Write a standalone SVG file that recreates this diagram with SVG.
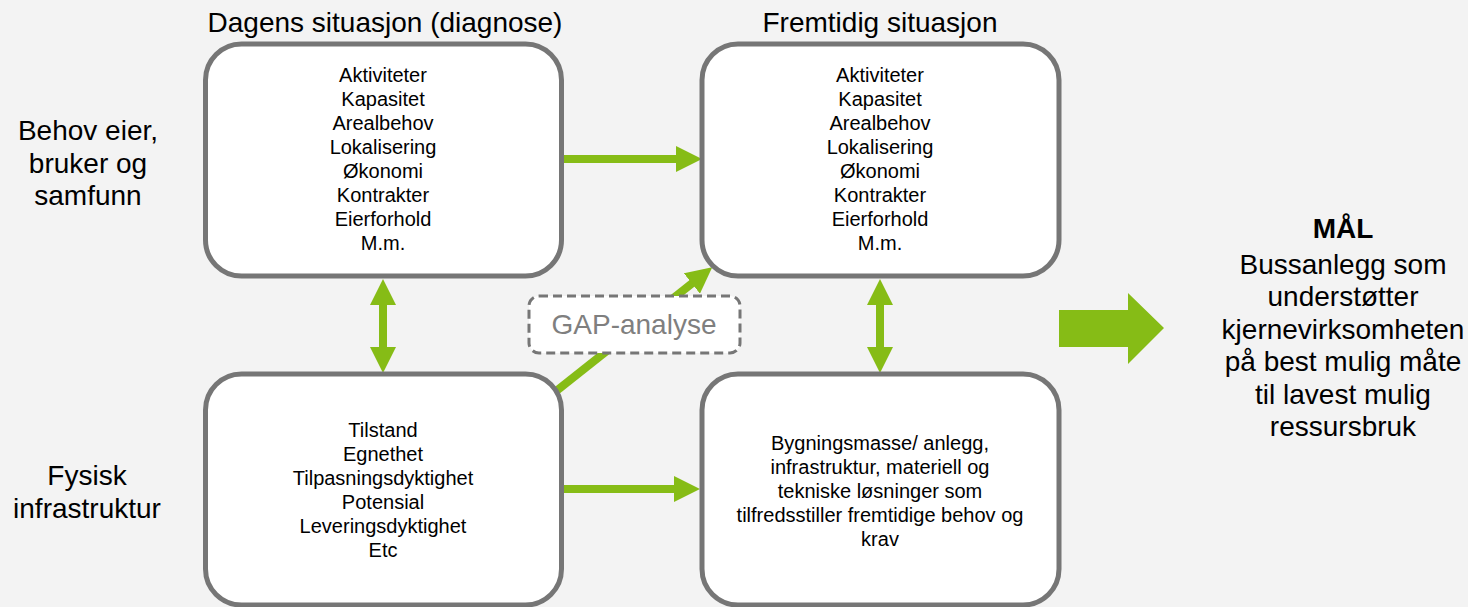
<svg xmlns="http://www.w3.org/2000/svg" width="1468" height="607" viewBox="0 0 1468 607">
<style>
text{font-family:"Liberation Sans",Arial,sans-serif;fill:#000;text-anchor:middle}
.box{fill:#fff;stroke:#767676;stroke-width:5}
.t{font-size:20px}
.h{font-size:28px}
.con{stroke:#86bc16;stroke-width:8;fill:none}
.gap{fill:#fff;stroke:#767676;stroke-width:3;stroke-dasharray:9 5}
</style>
<defs>
<marker id="ah" viewBox="0 0 26 26" markerWidth="26" markerHeight="26" markerUnits="userSpaceOnUse" refX="4" refY="13" orient="auto-start-reverse">
<path d="M0,0 L26,13 L0,26 z" fill="#86bc16"/>
</marker>
</defs>
<rect width="1468" height="607" fill="#f3f3f3"/>
<text class="h" x="385" y="32">Dagens situasjon (diagnose)</text>
<text class="h" x="880" y="32">Fremtidig situasjon</text>
<g id="label-behov"><text class="h" x="88" y="140">Behov eier,</text><text class="h" x="88" y="173">bruker og</text><text class="h" x="88" y="205">samfunn</text></g>
<g id="label-fysisk"><text class="h" x="87" y="485">Fysisk</text><text class="h" x="87" y="518">infrastruktur</text></g>
<g id="connectors">
<line class="con" x1="564" y1="159" x2="680" y2="159" marker-end="url(#ah)"/>
<line class="con" x1="564" y1="489" x2="678" y2="489" marker-end="url(#ah)"/>
<line class="con" x1="383" y1="301" x2="383" y2="351" marker-start="url(#ah)" marker-end="url(#ah)"/>
<line class="con" x1="880" y1="301" x2="880" y2="351" marker-start="url(#ah)" marker-end="url(#ah)"/>
<line class="con" x1="555" y1="392" x2="695" y2="281" marker-end="url(#ah)"/>
</g>
<g id="box-dagens-behov">
<rect class="box" x="205.5" y="44" width="356" height="232" rx="36"/>
<text class="t" x="383" y="82">Aktiviteter</text><text class="t" x="383" y="106">Kapasitet</text><text class="t" x="383" y="130">Arealbehov</text><text class="t" x="383" y="154">Lokalisering</text><text class="t" x="383" y="178">Økonomi</text><text class="t" x="383" y="202">Kontrakter</text><text class="t" x="383" y="226">Eierforhold</text><text class="t" x="383" y="250">M.m.</text>
</g>
<g id="box-fremtidig-behov">
<rect class="box" x="702" y="44" width="357" height="232" rx="36"/>
<text class="t" x="880" y="82">Aktiviteter</text><text class="t" x="880" y="106">Kapasitet</text><text class="t" x="880" y="130">Arealbehov</text><text class="t" x="880" y="154">Lokalisering</text><text class="t" x="880" y="178">Økonomi</text><text class="t" x="880" y="202">Kontrakter</text><text class="t" x="880" y="226">Eierforhold</text><text class="t" x="880" y="250">M.m.</text>
</g>
<g id="box-dagens-fysisk">
<rect class="box" x="205.5" y="374" width="356" height="231" rx="36"/>
<text class="t" x="383" y="437">Tilstand</text><text class="t" x="383" y="461">Egnethet</text><text class="t" x="383" y="485">Tilpasningsdyktighet</text><text class="t" x="383" y="509">Potensial</text><text class="t" x="383" y="533">Leveringsdyktighet</text><text class="t" x="383" y="557">Etc</text>
</g>
<g id="box-fremtidig-fysisk">
<rect class="box" x="702" y="374" width="357" height="231" rx="36"/>
<text class="t" x="880" y="450">Bygningsmasse/ anlegg,</text><text class="t" x="880" y="474">infrastruktur, materiell og</text><text class="t" x="880" y="498">tekniske løsninger som</text><text class="t" x="880" y="522">tilfredsstiller fremtidige behov og</text><text class="t" x="880" y="546">krav</text>
</g>
<g id="gap-analyse">
<rect class="gap" x="529" y="296" width="211" height="57" rx="10"/>
<text class="h" x="634" y="334" fill="#7f7f7f" style="fill:#7f7f7f">GAP-analyse</text>
</g>
<g id="big-arrow">
<polygon points="1059,310 1128,310 1128,293 1164,328 1128,364 1128,347 1059,347" fill="#86bc16"/>
</g>
<g id="maal">
<text class="h" x="1343" y="238" font-weight="bold">MÅL</text>
<text class="h" x="1343" y="274">Bussanlegg som</text>
<text class="h" x="1343" y="306">understøtter</text>
<text class="h" x="1343" y="339">kjernevirksomheten</text>
<text class="h" x="1343" y="371">på best mulig måte</text>
<text class="h" x="1343" y="404">til lavest mulig</text>
<text class="h" x="1343" y="436">ressursbruk</text>
</g>
</svg>
